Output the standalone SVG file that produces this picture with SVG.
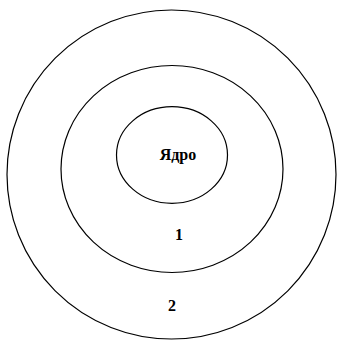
<svg xmlns="http://www.w3.org/2000/svg" width="337" height="340" viewBox="0 0 337 340">
<style>
.ring{fill:none;stroke:#000;stroke-width:1.2}
.lbl{font-family:"Liberation Serif","Times New Roman",serif;font-weight:bold;font-size:16px;fill:#000;text-anchor:middle}
</style>
<rect width="337" height="340" fill="#fff"/>
<g id="outer"><ellipse class="ring" cx="171.5" cy="174.5" rx="164.5" ry="164.5"/><text class="lbl" x="172" y="311">2</text></g>
<g id="middle"><ellipse class="ring" cx="172" cy="169" rx="111" ry="103.5"/><text class="lbl" x="179" y="240">1</text></g>
<g id="core"><ellipse class="ring" cx="172" cy="155" rx="55.5" ry="48.3"/><text class="lbl" x="178" y="160">Ядро</text></g>
<g id="connectors"/>
</svg>
